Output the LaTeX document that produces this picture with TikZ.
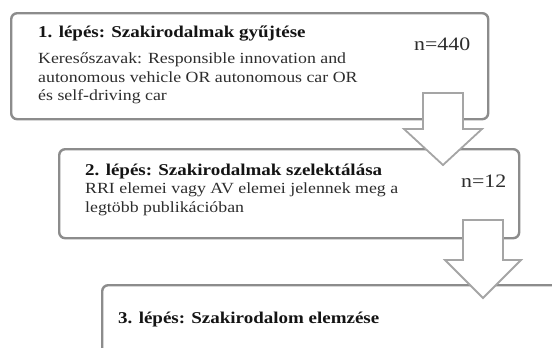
\documentclass[tikz,border=0pt]{standalone}
\usepackage{fontspec}
\setmainfont{Liberation Serif}[FakeStretch=1.15]
\definecolor{boxgray}{RGB}{140,140,140}
\definecolor{arrowgray}{RGB}{165,165,165}
\definecolor{txt}{RGB}{45,45,45}
\definecolor{ttl}{RGB}{20,20,20}
\begin{document}
\begin{tikzpicture}[x=1pt,y=-1pt,
  box/.style={draw=boxgray, line width=2.4pt, rounded corners=6pt, fill=white, inner sep=0pt, anchor=north west},
  blockarrow/.style={draw=arrowgray, line width=1.8pt, fill=white, line join=miter},
  ttlstyle/.style={font=\fontsize{16.5}{18}\selectfont\bfseries, anchor=base west, inner sep=0pt, text=ttl},
  bodystyle/.style={font=\fontsize{15.5}{18}\selectfont, anchor=base west, inner sep=0pt, text=txt},
  numstyle/.style={font=\fontsize{19}{21}\selectfont, anchor=base west, inner sep=0pt, text=txt},
]
\useasboundingbox (0,0) rectangle (552,348);
\clip (0,0) rectangle (552,348);
% boxes
\node[box, minimum width=477pt, minimum height=106pt] (b1) at (10,12) {};
\node[box, minimum width=460pt, minimum height=89pt] (b2) at (58,148) {};
\node[box, minimum width=480pt, minimum height=100pt] (b3) at (101,284) {};
% texts box 1
\node[ttlstyle] (t1) at (38,37) {1. lépés: Szakirodalmak gyűjtése};
\node[bodystyle] (l11) at (38,63) {Keresőszavak: Responsible innovation and};
\node[bodystyle] (l12) at (38,82) {autonomous vehicle OR autonomous car OR};
\node[bodystyle] (l13) at (38,100) {és self-driving car};
\node[numstyle] (n1) at (414,50) {n=440};
% texts box 2
\node[ttlstyle] (t2) at (85,175) {2. lépés: Szakirodalmak szelektálása};
\node[bodystyle] (l21) at (85,193) {RRI elemei vagy AV elemei jelennek meg a};
\node[bodystyle] (l22) at (85,212) {legtöbb publikációban};
\node[numstyle] (n2) at (461,187) {n=12};
% text box 3
\node[ttlstyle] (t3) at (118,323) {3. lépés: Szakirodalom elemzése};
% block arrows
\coordinate (a1) at (443,93);
\coordinate (a2) at (483,220);
\draw[blockarrow] (a1) ++(-20,0) -- ++(40,0) -- ++(0,36) -- ++(19,0) -- ++(-39,36) -- ++(-39,-36) -- ++(19,0) -- cycle;
\draw[blockarrow] (a2) ++(-20,0) -- ++(40,0) -- ++(0,40) -- ++(18,0) -- ++(-38,38) -- ++(-38,-38) -- ++(18,0) -- cycle;
\end{tikzpicture}
\end{document}
